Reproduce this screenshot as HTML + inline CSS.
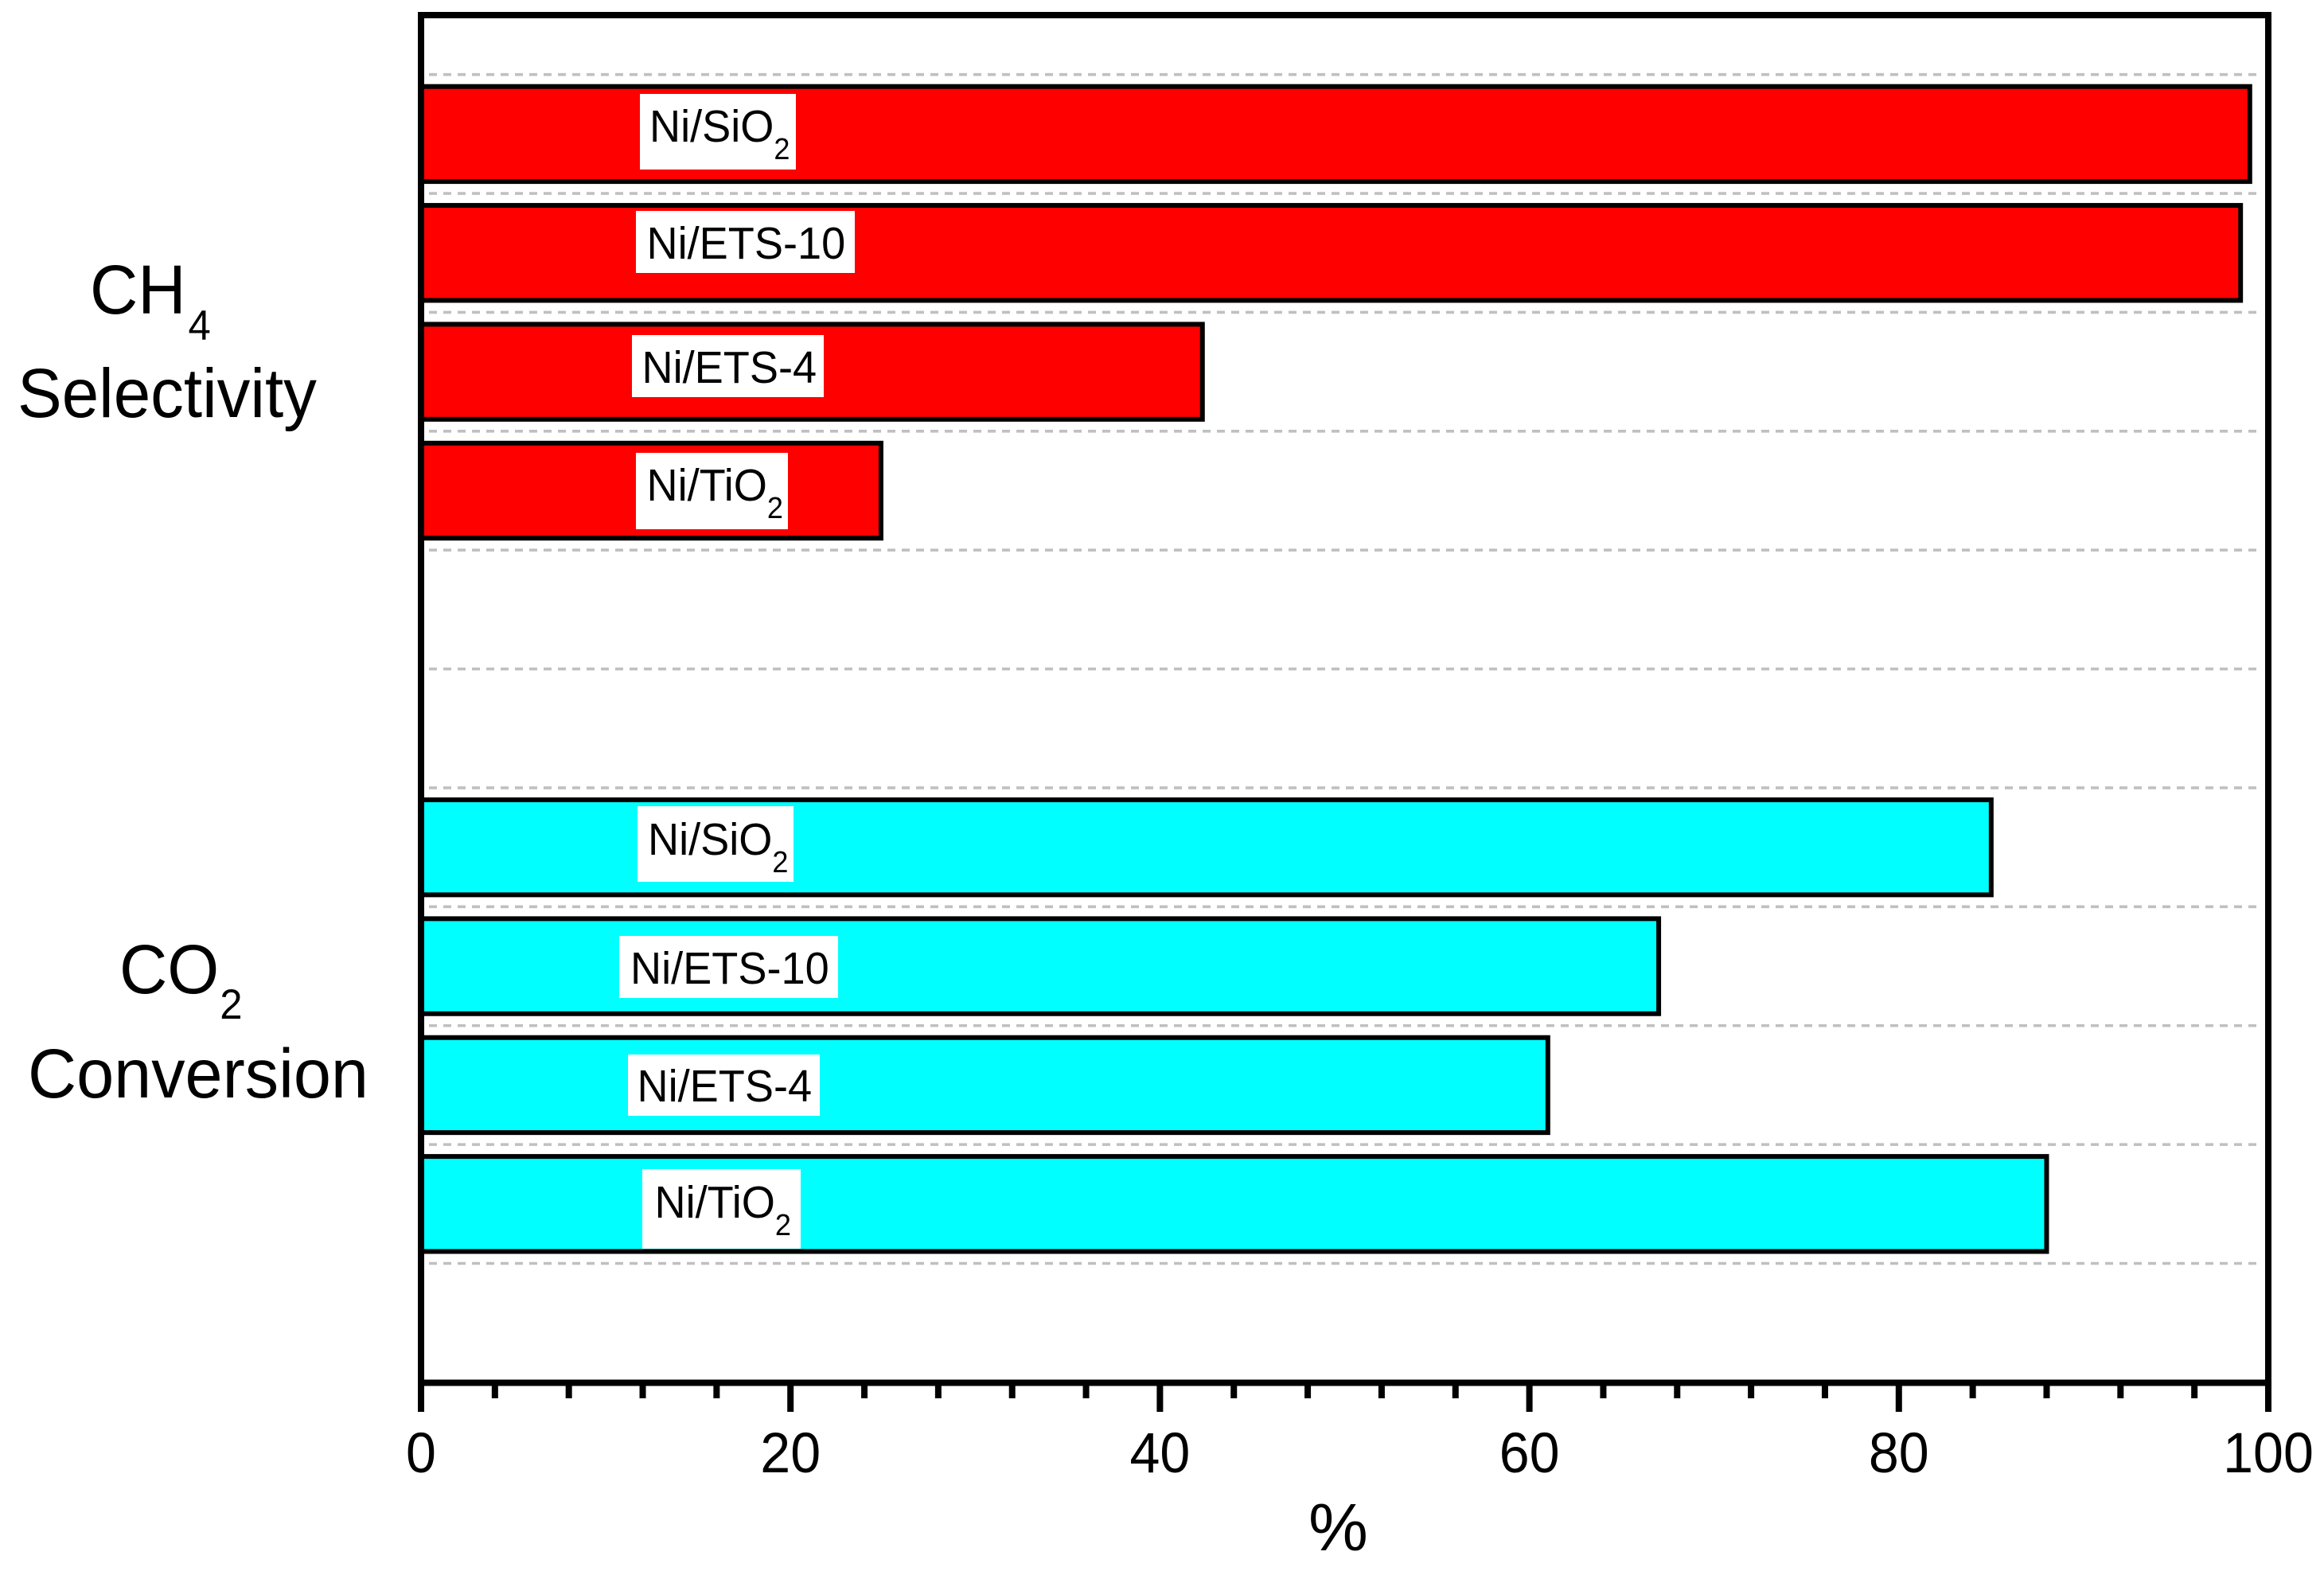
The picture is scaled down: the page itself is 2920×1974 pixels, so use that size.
<!DOCTYPE html>
<html lang="en">
<head>
<meta charset="utf-8">
<title>CH4 Selectivity and CO2 Conversion</title>
<style>
html,body{margin:0;padding:0;background:#fff;width:2920px;height:1974px;overflow:hidden}
svg{display:block}
text{font-family:"Liberation Sans",Arial,sans-serif;fill:#000}
</style>
</head>
<body>
<svg id="chart" xmlns="http://www.w3.org/2000/svg" width="2920" height="1974" viewBox="0 0 2920 1974">
  <rect x="0" y="0" width="2920" height="1974" fill="#fff"/>
  <g id="grid"></g>
  <g id="bars"></g>
  <g id="axes"></g>

  <g font-size="57">
    <g><rect x="804" y="118" width="196" height="95" fill="#fff"/><text transform="translate(816,178) scale(.95,1)">Ni/SiO<tspan font-size="38" dy="22">2</tspan></text></g>
    <g><rect x="799" y="265" width="275" height="78" fill="#fff"/><text transform="translate(812.5,325) scale(.95,1)">Ni/ETS-10</text></g>
    <g><rect x="794" y="421" width="241" height="78" fill="#fff"/><text transform="translate(806.5,481) scale(.95,1)">Ni/ETS-4</text></g>
    <g><rect x="799" y="569" width="191" height="96" fill="#fff"/><text transform="translate(812.5,629) scale(.95,1)">Ni/TiO<tspan font-size="38" dy="22">2</tspan></text></g>
    <g><rect x="801" y="1013" width="196" height="95" fill="#fff"/><text transform="translate(814,1074) scale(.95,1)">Ni/SiO<tspan font-size="38" dy="22">2</tspan></text></g>
    <g><rect x="778" y="1176" width="275" height="78" fill="#fff"/><text transform="translate(792,1236) scale(.95,1)">Ni/ETS-10</text></g>
    <g><rect x="789" y="1325" width="241" height="77" fill="#fff"/><text transform="translate(800.5,1384) scale(.95,1)">Ni/ETS-4</text></g>
    <g><rect x="807" y="1469" width="199" height="100" fill="#fff"/><text transform="translate(822.5,1530) scale(.95,1)">Ni/TiO<tspan font-size="38" dy="22">2</tspan></text></g>
  </g>

  <text transform="translate(113,394) scale(.96,1)" font-size="87">CH<tspan font-size="53" dx="3" dy="33">4</tspan></text>
  <text transform="translate(22,524) scale(.96,1)" font-size="87">Selectivity</text>
  <text transform="translate(150,1248) scale(.96,1)" font-size="87">CO<tspan font-size="53" dx="1" dy="32">2</tspan></text>
  <text x="35" y="1379" font-size="87" textLength="428" lengthAdjust="spacingAndGlyphs">Conversion</text>
  <text x="1681.5" y="1948" font-size="84" text-anchor="middle">%</text>
</svg>
<script>
const ch4Catalysts = ['Ni/SiO2', 'Ni/ETS-10', 'Ni/ETS-4', 'Ni/TiO2'];
const ch4Selectivity = [99, 98.5, 42.3, 24.9];
const co2Catalysts = ['Ni/SiO2', 'Ni/ETS-10', 'Ni/ETS-4', 'Ni/TiO2'];
const co2Conversion = [85, 67, 61, 88];
const xMajorTicks = [0, 20, 40, 60, 80, 100];
const xMinorTicks = [4, 8, 12, 16, 24, 28, 32, 36, 44, 48, 52, 56, 64, 68, 72, 76, 84, 88, 92, 96];

const NS = 'http://www.w3.org/2000/svg';
const plot = { left: 529, right: 2850, top: 19, bottom: 1737.5, firstRow: 93.7, rowStep: 149.38 };
const CO2_FIRST_SLOT = 6;
const SLOT_COUNT = 10;

function xScale(v) { return plot.left + (v / 100) * (plot.right - plot.left); }
function rowEdge(slot) { return plot.firstRow + slot * plot.rowStep; }
function rowCenter(slot) { return rowEdge(slot + 0.5); }

function make(tag, attrs, parent) {
  const el = document.createElementNS(NS, tag);
  for (const k in attrs) el.setAttribute(k, attrs[k]);
  parent.appendChild(el);
  return el;
}

const gridG = document.getElementById('grid');
for (let i = 0; i <= SLOT_COUNT; i++) {
  const y = rowEdge(i);
  const g = make('line', { x1: 533, x2: 2835, y1: y, y2: y, stroke: '#c0c0c0', 'stroke-width': 3.6, 'stroke-dasharray': '10 8', 'stroke-dashoffset': 12 }, gridG);
  
  
}

const barsG = document.getElementById('bars');
function drawBar(value, slot, fill) {
  const barH = 119.4;
  const r = make('rect', {
    x: plot.left, y: rowCenter(slot) - barH / 2,
    width: xScale(value) - plot.left, height: barH,
    fill: fill, stroke: '#000', 'stroke-width': 6
  }, barsG);
  return r;
}
ch4Selectivity.forEach(function (v, i) {
  const bar = drawBar(v, i, '#ff0000');
  
  
});
co2Conversion.forEach(function (v, i) {
  const bar = drawBar(v, CO2_FIRST_SLOT + i, '#00ffff');
  
  
});

const axesG = document.getElementById('axes');
const frame = make('path', {
  d: 'M' + plot.left + ' ' + plot.bottom + 'V' + plot.top + 'H' + plot.right + 'V' + plot.bottom + 'H' + plot.left + 'Z',
  fill: 'none', stroke: '#000', 'stroke-width': 8
}, axesG);



xMinorTicks.forEach(function (v) {
  const t = make('line', { x1: xScale(v), x2: xScale(v), y1: plot.bottom, y2: 1757, stroke: '#000', 'stroke-width': 8 }, axesG);
  
  
});
xMajorTicks.forEach(function (v) {
  const t = make('line', { x1: xScale(v), x2: xScale(v), y1: plot.bottom, y2: 1774, stroke: '#000', 'stroke-width': 8 }, axesG);
  
  
  const l = make('text', { transform: 'translate(' + xScale(v) + ',1850) scale(.96,1)', 'font-size': 71, 'text-anchor': 'middle' }, axesG);
  
  
  l.textContent = String(v);
});
</script>
</body>
</html>
